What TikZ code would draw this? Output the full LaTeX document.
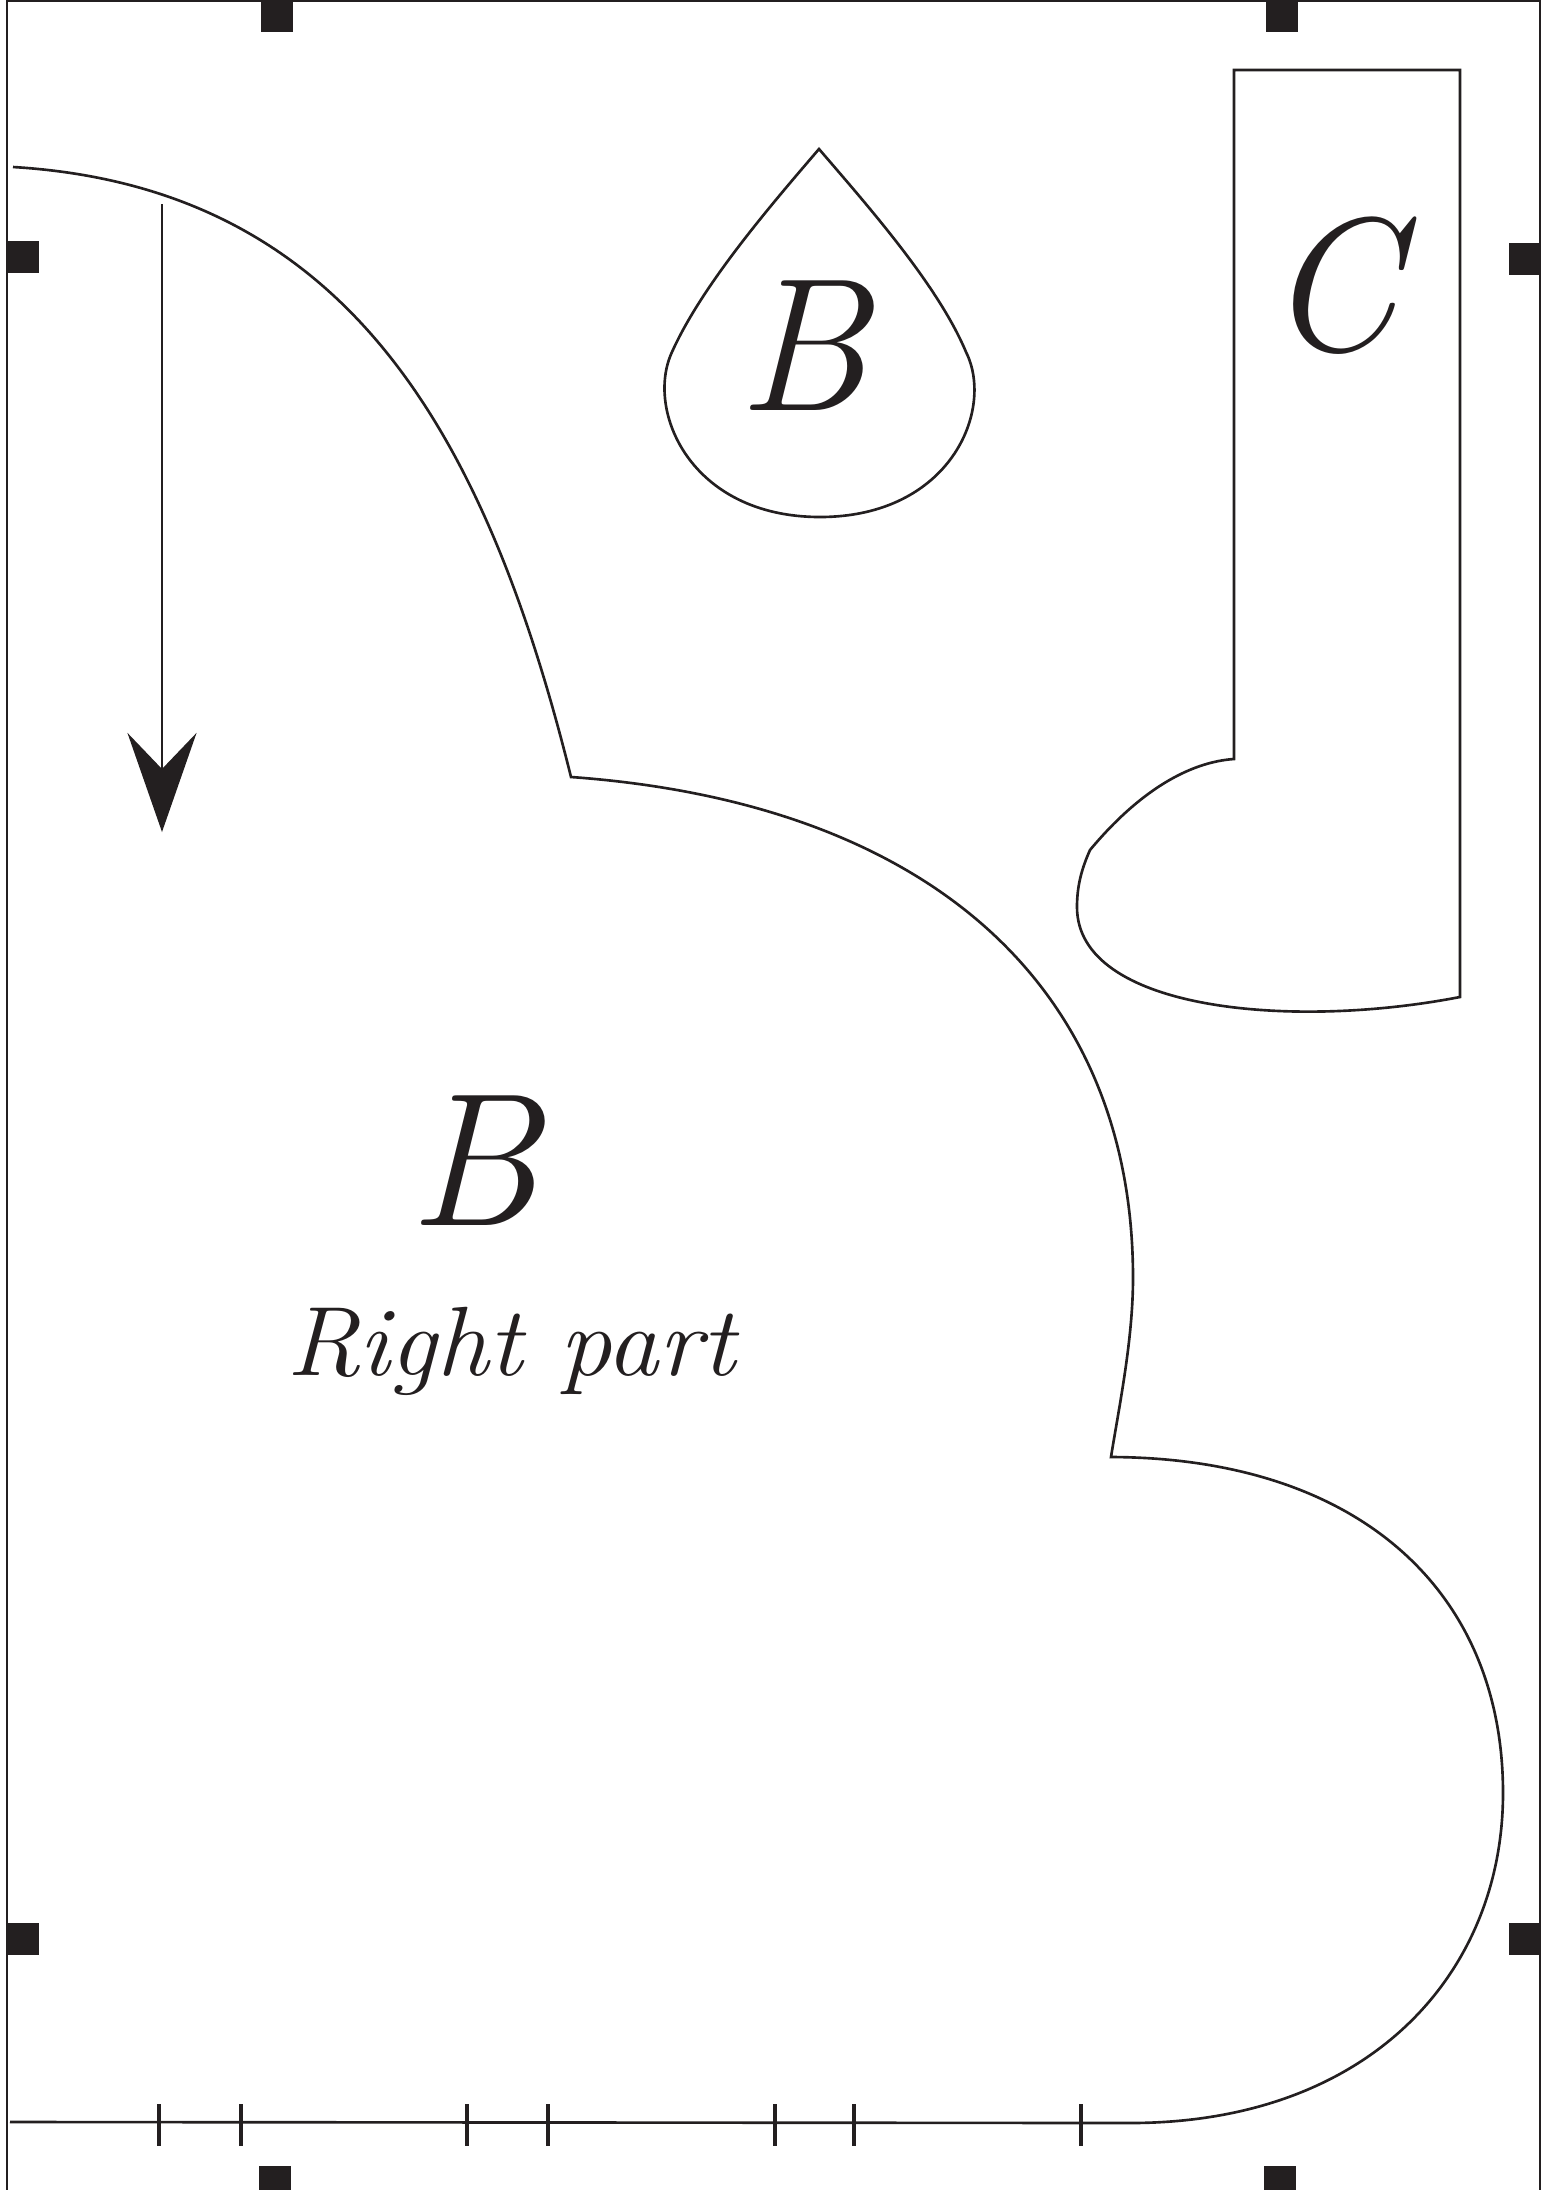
\documentclass[tikz,border=0pt]{standalone}
\usepackage{fontspec}
\usepackage{tikz}
\usetikzlibrary{arrows.meta,positioning}
\definecolor{ink}{HTML}{231F20}

\begin{document}
\begin{tikzpicture}[x=0.01cm, y=-0.01cm,
  outline/.style={draw=ink, line width=0.75pt},
  tickline/.style={draw=ink, line width=1.1pt},
  regmark/.style={fill=ink},
  bigletter/.style={font=\fontsize{54}{60}\selectfont\itshape, text=ink, inner sep=0pt, anchor=base},
  partlabel/.style={font=\fontsize{28}{32}\selectfont\itshape, text=ink, inner sep=0pt, anchor=base, xscale=1.06}]
  % Page area
  \useasboundingbox (0,0) rectangle (1543,2190);
  \clip (0,0) rectangle (1543,2190);

  % Trim frame
  \draw[outline] (7,2200) -- (7,1) -- (1540,1) -- (1540,2200);

  % Registration marks
  \foreach \x/\y in {261/0, 1266/0, 7/241, 7/1923, 1509/243, 1509/1923, 259/2166, 1264/2166}
    \fill[regmark] (\x,\y) rectangle ++(32,32);

  % Big piece B
  \draw[outline] (13,167) .. controls (343,187) and (484,427) .. (571,777)
    .. controls (931,803) and (1133,988) .. (1133,1278)
    .. controls (1133,1340) and (1119,1407) .. (1111,1457)
    .. controls (1361,1458) and (1503,1593) .. (1503,1793)
    .. controls (1503,1973) and (1370,2123) .. (1130,2123)
    -- (10,2122);

  % Ticks on the bottom edge
  \foreach \x in {159,241,467,548,775,854,1081}
    \draw[tickline] (\x,2104) -- (\x,2146);

  % Drop piece B
  \draw[outline] (819,149) .. controls (771,205) and (702,285) .. (672,352)
    .. controls (645,410) and (690,517) .. (820,517)
    .. controls (950,517) and (995,410) .. (966,352)
    .. controls (938,285) and (867,205) .. (819,149) -- cycle;

  % Piece C
  \draw[outline] (1234,759) -- (1234,70) -- (1460,70) -- (1460,997)
    .. controls (1290,1030) and (1077,1010) .. (1077,907)
    .. controls (1077,885) and (1082,868) .. (1090,850)
    .. controls (1140,790) and (1190,762) .. (1234,759) -- cycle;

  % Grain arrow
  \coordinate (arrowtop) at (162,204);
  \coordinate (arrowtip) at (162,832);
  \draw[outline, -{Stealth[length=0.99cm, width=0.69cm, inset=0.36cm]}] (arrowtop) -- (arrowtip);

  % Labels
  \node[bigletter] (dropB) at (803,410) {B};
  \node[bigletter] (tabC) at (1332,350) {C};
  \node[bigletter] (mainB) at (474,1225) {B};
  \node[partlabel] (mainlabel) at (511,1375) {Right part};
\end{tikzpicture}
\end{document}
